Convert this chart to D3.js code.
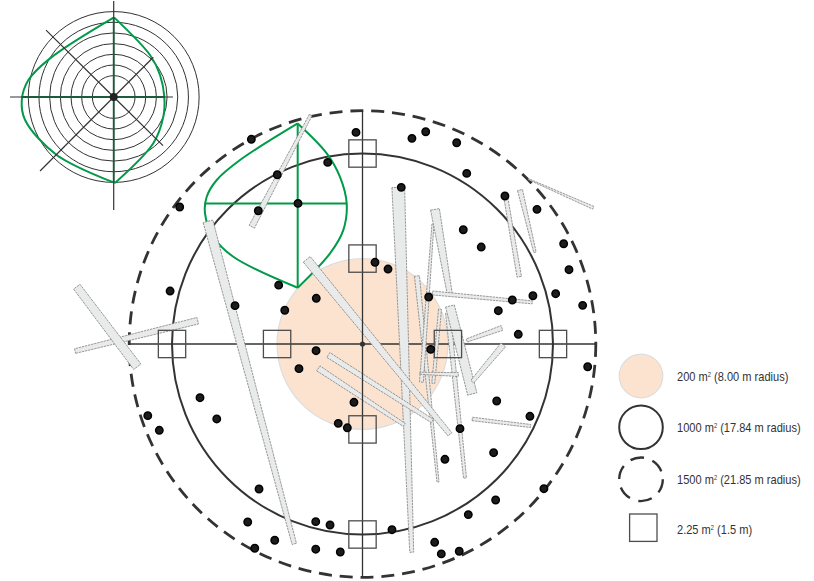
<!DOCTYPE html>
<html>
<head>
<meta charset="utf-8">
<style>
  body { margin: 0; background: #fff; }
  svg { display: block; }
  .label { font-family: "Liberation Sans", Arial, sans-serif; font-size: 12.5px; fill: #333; }
</style>
</head>
<body>
<script src="https://cdn.jsdelivr.net/npm/d3@7"></script>
<script>
// plot radii in metres
const plotRadii = [8.0, 17.84, 21.85];
const ringRadii = [2, 3, 4, 5, 6, 7, 8];
const squareCentres = [[0, 17.84], [0, 8], [-17.84, 0], [-8, 0], [8, 0], [17.84, 0], [0, -8], [0, -17.84]];
const squareSide = 2.56;

// stem positions in metres from plot centre
const treeX = [-0.61, 4.63, 5.92, 8.82, 9.76, 3.63, 13.34, 16.34, 9.44, 11.12, 18.84, 19.34, 1.17, 2.39, 6.20, 14.03, 15.96, 18.09, 20.62, 12.72, 14.59, 6.39, 21.09, 12.57, 15.68, 9.13, 7.72, 12.28, 16.99, 12.47, 9.91, 6.76, 7.38, 9.06, 2.76, -0.80, -1.42, -2.27, -2.08, -18.02, -11.94, -7.85, -4.33, -7.28, -4.35, -5.95, -15.22, -13.65, -20.11, -19.03, -9.69, -10.75, -4.38, -3.04, -8.22, -10.09, -4.38, -10.41, -17.12, -7.98, -9.76, -6.04, -3.26];
const treeY = [19.82, 19.26, 19.88, 18.85, 15.98, 14.67, 13.86, 12.61, 10.70, 9.08, 9.39, 6.96, 7.65, 7.02, 4.40, 4.12, 4.52, 4.71, 3.62, 3.12, 0.91, -0.50, -2.13, -5.34, -6.77, -7.93, -10.80, -10.18, -13.55, -14.61, -15.98, -18.57, -19.66, -19.41, -17.39, -5.46, -7.85, -7.43, -19.48, 4.96, 3.59, 5.51, 4.28, 3.16, -0.63, -2.31, -5.03, -7.02, -6.71, -8.08, -13.58, -16.67, -16.64, -16.95, -18.38, -19.13, -19.22, 19.17, 12.83, 15.85, 12.48, 13.17, 17.01];

// down logs: x1, y1, x2, y2, end widths w1, w2 (metres)
const logs = [
  [-14.47, 11.49, -6.39, -18.72, 0.94, 0.42],
  [-4.85, 21.44, -10.37, 10.98, 0.28, 0.56],
  [-26.92, -0.66, -15.43, 2.18, 0.44, 0.63],
  [-26.76, 5.37, -21.09, -2.13, 0.75, 0.85],
  [5.10, 6.37, 7.07, -12.92, 0.47, 0.19],
  [8.01, 2.90, 9.60, -12.55, 0.47, 0.28],
  [6.60, 11.24, 5.52, -3.56, 0.19, 0.37],
  [7.26, 3.25, 6.63, -3.68, 0.28, 0.28],
  [5.38, -2.74, 8.97, -2.86, 0.19, 0.37],
  [6.79, 12.61, 8.19, 4.59, 0.84, 0.47],
  [8.19, 3.56, 10.28, -4.68, 0.84, 0.89],
  [3.35, 14.67, 4.61, -19.50, 1.19, 0.37],
  [-5.22, 7.93, 8.19, -8.46, 0.84, 0.47],
  [-3.20, -1.03, 6.54, -7.21, 0.53, 0.37],
  [-4.14, -2.28, 3.91, -7.58, 0.56, 0.33],
  [6.55, 4.78, 15.90, 3.90, 0.37, 0.28],
  [9.76, 0.33, 13.06, 1.50, 0.30, 0.47],
  [10.28, -3.53, 13.18, -0.09, 0.37, 0.56],
  [13.41, 13.79, 14.68, 6.30, 0.37, 0.42],
  [14.75, 14.42, 16.15, 8.59, 0.47, 0.23],
  [15.52, 15.45, 21.61, 12.76, 0.09, 0.28],
  [10.28, -7.02, 15.75, -7.68, 0.33, 0.28],
];

// crown outline drawn in the plot
const crownCentre = [-6.04, 13.17];
const crownRight = [[-6.07, 20.66], [-3.35, 17.86], [-2.11, 15.66], [-1.48, 13.17], [-1.80, 10.67], [-3.04, 8.49], [-6.07, 5.27]];
const crownLeft = [[-6.07, 20.66], [-11.47, 17.23], [-13.65, 15.36], [-14.59, 13.79], [-14.75, 12.24], [-13.97, 10.05], [-12.10, 8.17], [-6.07, 5.27]];

// inset crown diagram, same units
const insetRight = [[0.03, 7.46], [3.40, 3.93], [4.34, 2.06], [4.74, 0.03], [4.65, -1.84], [3.71, -4.34], [0.12, -8.05]];
const insetLeft = [[0.03, 7.46], [-5.96, 3.62], [-7.99, 1.59], [-8.61, -0.28], [-8.30, -2.15], [-5.34, -5.43], [0.12, -8.05]];
const insetSpokes = [[-9.71, 0], [5.55, 0], [0, 8.99], [0, -10.58], [-6.34, 6.27], [4.62, -4.56], [-6.90, -6.93], [3.71, 3.72]];

const legendLabels = [
  ['200 m', ' (8.00 m radius)'],
  ['1000 m', ' (17.84 m radius)'],
  ['1500 m', ' (21.85 m radius)'],
  ['2.25 m', ' (1.5 m)'],
];
const legendRows = [0, 1, 2, 3];
const legendSymbolY = [376, 427.3, 479.3, 527.7];
const legendTextY = [380.5, 432, 484, 534];

const width = 814;
const height = 581;

const ink = '#333';
const green = '#009a49';
const darkGreen = '#1c5c3c';
const peach = '#fce3d0';

const svg = d3.select('body')
  .append('svg')
  .attr('width', width)
  .attr('height', height);

// set up scales
const x = d3.scaleLinear().domain([-21.85, 21.85]).range([129.2, 595.8]);
const y = d3.scaleLinear().domain([-21.85, 21.85]).range([577.3, 110.7]);
const r = d3.scaleLinear().domain([0, 21.85]).range([0, 233.3]);
const insetX = d3.scaleLinear().domain([-8, 8]).range([28.3, 199.1]);
const insetY = d3.scaleLinear().domain([-8, 8]).range([182.4, 11.6]);
const legendY = d3.scaleOrdinal().domain(legendRows).range(legendSymbolY);
const labelY = d3.scaleOrdinal().domain(legendRows).range(legendTextY);

const curve = d3.line().curve(d3.curveCatmullRom);

// inset diagram
const inset = svg.append('g');

inset.selectAll('circle')
  .data(ringRadii)
  .join('circle')
  .attr('cx', insetX(0))
  .attr('cy', insetY(0))
  .attr('r', (d) => r(d))
  .attr('fill', 'none')
  .attr('stroke', ink)
  .attr('stroke-width', 1);

[insetRight, insetLeft].forEach((side) => {
  inset.append('path')
    .attr('d', curve(side.map((p) => [insetX(p[0]), insetY(p[1])])))
    .attr('fill', 'none')
    .attr('stroke', green)
    .attr('stroke-width', 2);
});

inset.selectAll('line.spoke')
  .data(insetSpokes)
  .join('line')
  .attr('class', 'spoke')
  .attr('x1', insetX(0))
  .attr('y1', insetY(0))
  .attr('x2', (d) => insetX(d[0]))
  .attr('y2', (d) => insetY(d[1]))
  .attr('stroke', ink)
  .attr('stroke-width', 1.2);

// crown cross over the spokes, reads as dark green
inset.append('line')
  .attr('x1', insetX(-8.61)).attr('x2', insetX(4.74))
  .attr('y1', insetY(0)).attr('y2', insetY(0))
  .attr('stroke', darkGreen).attr('stroke-width', 1.8);
inset.append('line')
  .attr('x1', insetX(0)).attr('x2', insetX(0))
  .attr('y1', insetY(7.46)).attr('y2', insetY(-8.05))
  .attr('stroke', darkGreen).attr('stroke-width', 1.8);

inset.append('circle')
  .attr('cx', insetX(0))
  .attr('cy', insetY(0))
  .attr('r', 4)
  .attr('fill', '#222');

// subplot and horizontal transect go under the logs
svg.append('circle')
  .attr('cx', x(0))
  .attr('cy', y(0))
  .attr('r', r(plotRadii[0]))
  .attr('fill', peach)
  .attr('stroke', '#ddd')
  .attr('stroke-width', 1.2);

svg.append('line')
  .attr('x1', x(-21.85)).attr('x2', x(21.85))
  .attr('y1', y(0)).attr('y2', y(0))
  .attr('stroke', ink)
  .attr('stroke-width', 1.3);

svg.append('circle')
  .attr('cx', x(0))
  .attr('cy', y(0))
  .attr('r', r(plotRadii[1]))
  .attr('fill', 'none')
  .attr('stroke', ink)
  .attr('stroke-width', 2);

svg.append('circle')
  .attr('cx', x(0))
  .attr('cy', y(0))
  .attr('r', r(plotRadii[2]))
  .attr('fill', 'none')
  .attr('stroke', ink)
  .attr('stroke-width', 2.8)
  .attr('stroke-dasharray', '13 7.9');

// crown projection
[crownRight, crownLeft].forEach((side) => {
  svg.append('path')
    .attr('d', curve(side.map((p) => [x(p[0]), y(p[1])])))
    .attr('fill', 'none')
    .attr('stroke', green)
    .attr('stroke-width', 2);
});
svg.append('line')
  .attr('x1', x(-14.75)).attr('x2', x(-1.48))
  .attr('y1', y(crownCentre[1])).attr('y2', y(crownCentre[1]))
  .attr('stroke', green).attr('stroke-width', 2);
svg.append('line')
  .attr('x1', x(-6.07)).attr('x2', x(-6.07))
  .attr('y1', y(20.66)).attr('y2', y(5.27))
  .attr('stroke', green).attr('stroke-width', 2);

// logs as tapered polygons
function logOutline(d) {
  const dx = x(d[2]) - x(d[0]);
  const dy = y(d[3]) - y(d[1]);
  const len = Math.hypot(dx, dy);
  const nx = -dy / len;
  const ny = dx / len;
  const a = r(d[4]) / 2;
  const b = r(d[5]) / 2;
  return [
    [x(d[0]) + nx * a, y(d[1]) + ny * a],
    [x(d[2]) + nx * b, y(d[3]) + ny * b],
    [x(d[2]) - nx * b, y(d[3]) - ny * b],
    [x(d[0]) - nx * a, y(d[1]) - ny * a],
  ].join(' ');
}

svg.selectAll('polygon')
  .data(logs)
  .join('polygon')
  .attr('points', logOutline)
  .attr('fill', '#e9eaea')
  .attr('stroke', '#808080')
  .attr('stroke-width', 0.8)
  .attr('stroke-dasharray', '2.4 0.8');

// vertical transect sits on top of the logs
svg.append('line')
  .attr('x1', x(0)).attr('x2', x(0))
  .attr('y1', y(21.85)).attr('y2', y(-21.85))
  .attr('stroke', ink)
  .attr('stroke-width', 1.3);

svg.append('circle')
  .attr('cx', x(0))
  .attr('cy', y(0))
  .attr('r', 2.6)
  .attr('fill', ink);

svg.selectAll('rect.square')
  .data(squareCentres)
  .join('rect')
  .attr('class', 'square')
  .attr('x', (d) => x(d[0]) - r(squareSide) / 2)
  .attr('y', (d) => y(d[1]) - r(squareSide) / 2)
  .attr('width', r(squareSide))
  .attr('height', r(squareSide))
  .attr('fill', 'none')
  .attr('stroke', '#4d4d4d')
  .attr('stroke-width', 1.3);

svg.selectAll('circle.tree')
  .data(treeX)
  .join('circle')
  .attr('class', 'tree')
  .attr('cx', (d) => x(d))
  .attr('cy', (d, i) => y(treeY[i]))
  .attr('r', 3.7)
  .attr('fill', '#1c1c1c')
  .attr('stroke', '#000')
  .attr('stroke-width', 1.5);

// legend
const legendX = 641;

svg.append('circle')
  .attr('cx', legendX).attr('cy', legendY(0)).attr('r', 21.8)
  .attr('fill', peach).attr('stroke', '#ddd').attr('stroke-width', 1.2);

svg.append('circle')
  .attr('cx', legendX).attr('cy', legendY(1)).attr('r', 21.8)
  .attr('fill', 'none').attr('stroke', ink).attr('stroke-width', 2);

svg.append('circle')
  .attr('cx', legendX).attr('cy', legendY(2)).attr('r', 21.8)
  .attr('fill', 'none').attr('stroke', ink).attr('stroke-width', 2.4)
  .attr('stroke-dasharray', '14 8.8');

svg.append('rect')
  .attr('x', legendX + 2.3 - 13.7).attr('y', legendY(3) - 13.7)
  .attr('width', 27.4).attr('height', 27.4)
  .attr('fill', 'none').attr('stroke', '#4d4d4d').attr('stroke-width', 1.3);

// no narrow face installed, so squeeze the labels
const labels = svg.selectAll('text.label')
  .data(legendLabels)
  .join('text')
  .attr('class', 'label')
  .attr('transform', (d, i) => `translate(677, ${labelY(i)}) scale(0.885, 1)`);

labels.append('tspan').text((d) => d[0]);
labels.append('tspan').text('2').attr('dy', -4).style('font-size', '6.5px');
labels.append('tspan').text((d) => d[1]).attr('dy', 4);
</script>
</body>
</html>
